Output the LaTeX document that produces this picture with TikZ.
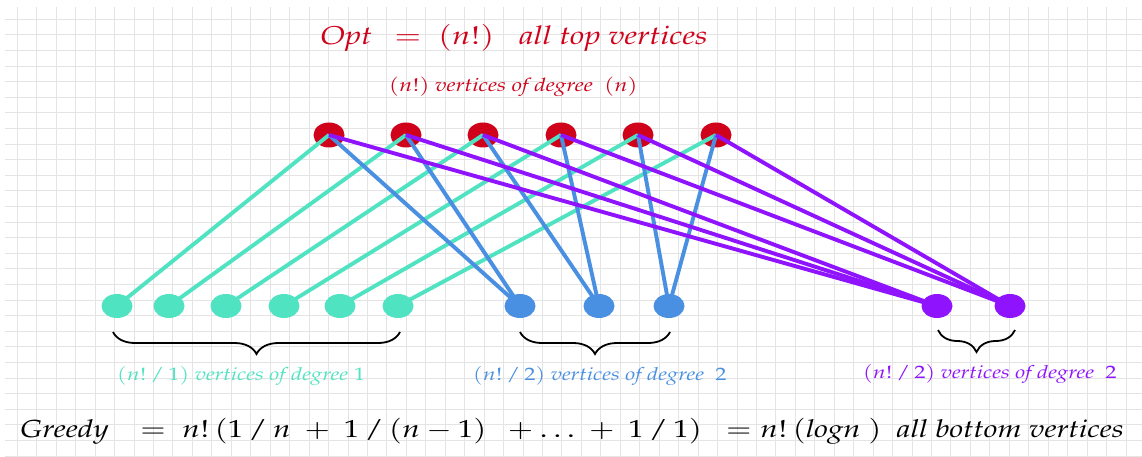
\documentclass[tikz,border=0pt]{standalone}
\usepackage[T1]{fontenc}
\usepackage{mathpazo}
\usetikzlibrary{shapes.geometric,decorations.pathreplacing}
\definecolor{cred}{HTML}{D0021B}
\definecolor{cteal}{HTML}{50E3C2}
\definecolor{cblue}{HTML}{4A90E2}
\definecolor{cpurple}{HTML}{9013FE}
\definecolor{cgrid}{HTML}{E4E4E4}
\pgfdeclarelayer{grid}
\pgfdeclarelayer{tops}
\pgfdeclarelayer{links}
\pgfsetlayers{grid,tops,links,main}
\newcommand{\wide}[1]{\scalebox{1.247}[1]{#1}}
\begin{document}
\begin{tikzpicture}[x=1pt,y=-1pt,
  vert/.style={ellipse,minimum width=31pt,minimum height=25pt,inner sep=0pt,draw=none},
  topv/.style={vert,fill=cred},
  tealv/.style={vert,fill=cteal,minimum height=24pt},
  bluev/.style={vert,fill=cblue,minimum height=24pt},
  purpv/.style={vert,fill=cpurple,minimum height=24pt},
  link/.style={line width=3.9pt},
  bracebox/.style={decorate,decoration={brace,mirror,amplitude=22pt},line width=1.8pt,black},
  lbl/.style={anchor=base west,inner sep=0pt},
  gridline/.style={cgrid,line width=0.9pt}
  ]
\useasboundingbox (0,0) rectangle (1142,457);
\begin{pgfonlayer}{grid}
  \fill[white] (0,0) rectangle (1142,457);
  \foreach \i in {0,...,57} { \draw[gridline] ({17.3+19.45*\i},7) -- ({17.3+19.45*\i},457); }
  \foreach \j in {0,...,28} { \draw[gridline] (5,{19.3+15.6*\j}) -- (1142,{19.3+15.6*\j}); }
\end{pgfonlayer}
% top vertices
\begin{pgfonlayer}{tops}
  \node[topv] (t1) at (329,135) {};
  \node[topv] (t2) at (406,135) {};
  \node[topv] (t3) at (483,135) {};
  \node[topv] (t4) at (561,135) {};
  \node[topv] (t5) at (638,135) {};
  \node[topv] (t6) at (716,135) {};
\end{pgfonlayer}
% bottom vertices
\node[tealv] (g1) at (117,306) {};
\node[tealv] (g2) at (169,306) {};
\node[tealv] (g3) at (226,306) {};
\node[tealv] (g4) at (284,306) {};
\node[tealv] (g5) at (340,306) {};
\node[tealv] (g6) at (398,306) {};
\node[bluev] (b1) at (520,306) {};
\node[bluev] (b2) at (599,306) {};
\node[bluev] (b3) at (669,306) {};
\node[purpv] (p1) at (937,306) {};
\node[purpv] (p2) at (1010,306) {};
% links
\begin{pgfonlayer}{links}
  \foreach \k in {1,...,6} { \draw[link,cteal] (t\k.center) -- (g\k.center); }
  \draw[link,cblue] (t1.center) -- (b1.center);
  \draw[link,cblue] (t2.center) -- (b1.center);
  \draw[link,cblue] (t3.center) -- (b2.center);
  \draw[link,cblue] (t4.center) -- (b2.center);
  \draw[link,cblue] (t5.center) -- (b3.center);
  \draw[link,cblue] (t6.center) -- (b3.center);
  \draw[link,cpurple] (t1.center) -- (p1.center);
  \draw[link,cpurple] (t2.center) -- (p1.center);
  \draw[link,cpurple] (t3.center) -- (p1.center);
  \draw[link,cpurple] (t4.center) -- (p2.center);
  \draw[link,cpurple] (t5.center) -- (p2.center);
  \draw[link,cpurple] (t6.center) -- (p2.center);
\end{pgfonlayer}
% braces
\coordinate (bgL) at (113,332); \coordinate (bgR) at (400,332);
\coordinate (bbL) at (520,332); \coordinate (bbR) at (670,332);
\coordinate (bpL) at (938,330); \coordinate (bpR) at (1015,330);
\draw[bracebox] (bgL) -- (bgR);
\draw[bracebox] (bbL) -- (bbR);
\draw[bracebox] (bpL) -- (bpR);
% texts
\node[lbl,text=cred,font=\fontsize{25.8}{30}\selectfont] (opt) at (320,45)
  {\wide{$\mathit{Opt}\ \,=\ (n!)\ \ \;$\textit{all top vertices}}};
\node[lbl,text=cred,font=\fontsize{18.5}{22}\selectfont] (deg) at (389,92)
  {\wide{$(n!)$ \textit{vertices of degree}\ \ $(n)$}};
\node[lbl,text=cteal,font=\fontsize{18}{21}\selectfont] (lg) at (117,380)
  {\wide{$(n!\,/\,1)$ \textit{vertices of degree} $1$}};
\node[lbl,text=cblue,font=\fontsize{18}{21}\selectfont] (lb) at (473,380)
  {\wide{$(n!\,/\,2)$ \textit{vertices of degree}\ \ $2$}};
\node[lbl,text=cpurple,font=\fontsize{18}{21}\selectfont] (lp) at (863,378)
  {\wide{$(n!\,/\,2)$ \textit{vertices of degree}\ \ $2$}};
\node[lbl,text=black,font=\fontsize{24.7}{29}\selectfont] (greedy) at (20,437)
  {\wide{$\mathit{Greedy}\ \ \ =\ n!\,(1\,/\,n\ +\ 1\,/\,(n-1)\ \ +\ldots\ +\ 1\,/\,1)\ \ =n!\,(\mathit{logn}\ )$\ \ \textit{all bottom vertices}}};
\end{tikzpicture}
\end{document}
